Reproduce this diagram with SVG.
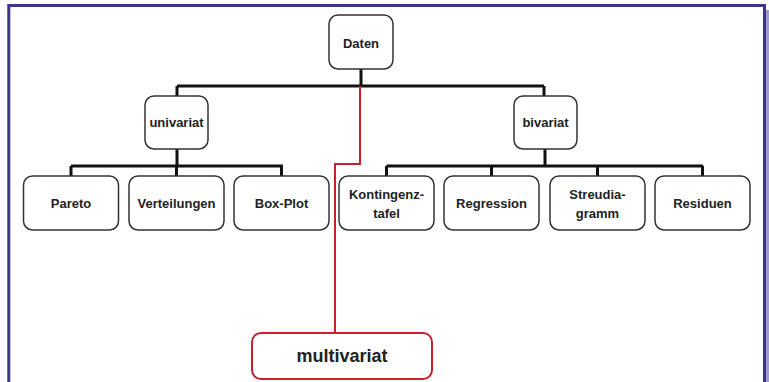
<svg xmlns="http://www.w3.org/2000/svg" width="769" height="382" viewBox="0 0 769 382">
<style>
.box{fill:#fff;stroke:#333;stroke-width:1.5}
.t{font-family:"Liberation Sans",Arial,sans-serif;font-weight:bold;font-size:13px;fill:#222;text-anchor:middle}
.c{fill:none;stroke:#111;stroke-width:3}
.r{fill:none;stroke:#c8202c;stroke-width:2}
</style>
<rect x="766" y="10" width="3" height="372" fill="#a09cd0"/>
<path d="M8.8 382 V5.5 H764.5 V382" fill="none" stroke="#3b358f" stroke-width="3"/>
<g id="connectors">
<path class="c" d="M361 69 V86 M177 86 H544 M177 86 V96 M544 86 V96"/>
<path class="c" d="M177 149 V166 M71 166 H283 M71 166 V176 M176.5 166 V176 M281.5 166 V176"/>
<path class="c" d="M545 149 V166 M386.5 166 H703 M386.5 166 V176 M491.5 166 V176 M597.5 166 V176 M702.5 166 V176"/>
<path class="r" d="M360 86 V164 H335 V333"/>
</g>
<g id="daten"><rect class="box" x="329" y="15" width="64" height="54" rx="9"/><text class="t" x="361" y="48">Daten</text></g>
<g id="univariat"><rect class="box" x="145" y="96" width="63" height="53" rx="9"/><text class="t" x="176.5" y="127">univariat</text></g>
<g id="bivariat"><rect class="box" x="514" y="96" width="63" height="53" rx="9"/><text class="t" x="545.5" y="127">bivariat</text></g>
<g id="pareto"><rect class="box" x="23.5" y="176" width="95" height="54" rx="9"/><text class="t" x="71" y="208">Pareto</text></g>
<g id="verteilungen"><rect class="box" x="129" y="176" width="95" height="54" rx="9"/><text class="t" x="176.5" y="208">Verteilungen</text></g>
<g id="boxplot"><rect class="box" x="234" y="176" width="95" height="54" rx="9"/><text class="t" x="281.5" y="208">Box-Plot</text></g>
<g id="kontingenztafel"><rect class="box" x="339" y="176" width="95" height="54" rx="9"/><text class="t" x="386.5" y="199">Kontingenz-</text><text class="t" x="386.5" y="218">tafel</text></g>
<g id="regression"><rect class="box" x="444" y="176" width="95" height="54" rx="9"/><text class="t" x="491.5" y="208">Regression</text></g>
<g id="streudiagramm"><rect class="box" x="550" y="176" width="95" height="54" rx="9"/><text class="t" x="597.5" y="199">Streudia-</text><text class="t" x="597.5" y="218">gramm</text></g>
<g id="residuen"><rect class="box" x="655" y="176" width="95" height="54" rx="9"/><text class="t" x="702.5" y="208">Residuen</text></g>
<g id="multivariat"><rect x="252" y="333" width="180" height="46" rx="9" fill="#fff" stroke="#c8202c" stroke-width="2"/><text class="t" x="342" y="362" style="font-size:18px">multivariat</text></g>
</svg>
